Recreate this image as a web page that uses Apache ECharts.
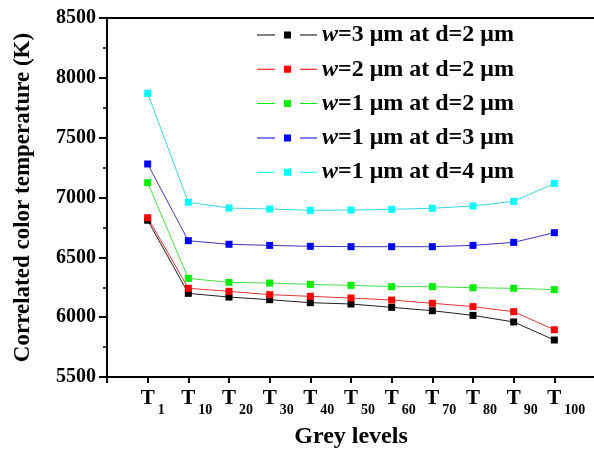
<!DOCTYPE html>
<html>
<head>
<meta charset="utf-8">
<script src="https://cdn.jsdelivr.net/npm/echarts@6/dist/echarts.min.js"></script>
<style>
  html, body { margin: 0; padding: 0; background: #fff; }
  #chart { width: 594px; height: 451px; }
</style>
</head>
<body>
<div id="chart"></div>
<script>
  // grey level subscripts (T1 ... T100)
  const levels = ['1', '10', '20', '30', '40', '50', '60', '70', '80', '90', '100'];
  const names = ['w=3 μm at d=2 μm', 'w=2 μm at d=2 μm', 'w=1 μm at d=2 μm', 'w=1 μm at d=3 μm', 'w=1 μm at d=4 μm'];
  const w3d2 = [6810, 6199, 6168, 6146, 6121, 6110, 6082, 6054, 6015, 5960, 5809];
  const w2d2 = [6831, 6241, 6216, 6188, 6174, 6160, 6143, 6116, 6088, 6046, 5895];
  const w1d2 = [7124, 6324, 6291, 6285, 6274, 6266, 6255, 6255, 6246, 6241, 6230];
  const w1d3 = [7280, 6639, 6609, 6600, 6592, 6589, 6589, 6589, 6600, 6625, 6706];
  const w1d4 = [7871, 6960, 6912, 6904, 6893, 6895, 6901, 6910, 6929, 6968, 7118];

  const markColors = ['#000000', '#ff0000', '#00ee00', '#0000ff', '#00ffff'];
  const lineColors = ['#202020', '#e03535', '#45e045', '#3a3ab8', '#35d8e0'];
  const serif = '"Liberation Serif", "Times New Roman", serif';

  const chart = echarts.init(document.getElementById('chart'));

  const toPoints = (arr) => arr.map((v, i) => [i + 1, v]);
  const allData = [w3d2, w2d2, w1d2, w1d3, w1d4];
  const labelPos = levels.map((s, i) => i + 1);

  const series = allData.map((arr, k) => ({
    name: names[k],
    type: 'line',
    xAxisIndex: 0,
    data: toPoints(arr),
    symbol: 'rect',
    symbolSize: 7,
    showSymbol: true,
    itemStyle: { color: markColors[k] },
    lineStyle: { color: lineColors[k], width: 1 },
    emphasis: { disabled: true },
    animation: false
  }));

  const option = {
    animation: false,
    grid: {
      left: 107, right: -1, top: 18, bottom: 74,
      outerBoundsMode: 'none',
      containLabel: false,
      show: true, borderColor: '#000', borderWidth: 2
    },
    legend: {
      orient: 'vertical',
      left: 257,
      top: 23,
      padding: 0,
      itemWidth: 60,
      itemHeight: 7,
      itemGap: 10.3,
      icon: 'path://M0,3H18V4H0Z M27,0H34V7H27Z M43,3H60V4H43Z',
      data: names.map((n, k) => ({ name: n, itemStyle: { color: markColors[k] } })),
      formatter: (n) => '{i|w}{b|' + n.slice(1) + '}',
      textStyle: {
        color: '#000',
        rich: {
          i: { fontFamily: serif, fontStyle: 'italic', fontWeight: 'bold', fontSize: 24, lineHeight: 24 },
          b: { fontFamily: serif, fontWeight: 'bold', fontSize: 24, lineHeight: 24 }
        }
      }
    },
    xAxis: [{
      // main axis: "T" labels centred on ticks
      type: 'value',
      min: 0,
      max: 12,
      interval: 1,
      name: 'Grey levels',
      nameLocation: 'middle',
      nameGap: 48,
      nameMoveOverlap: false,
      nameTextStyle: { fontFamily: serif, fontWeight: 'bold', fontSize: 24, color: '#000' },
      axisLine: { lineStyle: { color: '#000', width: 2 } },
      axisTick: { show: true, inside: false, length: 6, lineStyle: { color: '#000', width: 2 }, customValues: [0].concat(labelPos) },
      splitLine: { show: false },
      axisLabel: {
        margin: 11,
        customValues: labelPos,
        formatter: () => 'T',
        fontFamily: serif, fontWeight: 'bold', fontSize: 21, color: '#000'
      }
    }, {
      // subscript axis: numbers hanging right of each "T"
      type: 'value',
      position: 'bottom',
      offset: 0,
      min: 0,
      max: 12,
      interval: 1,
      axisLine: { show: false },
      axisTick: { show: false },
      splitLine: { show: false },
      axisLabel: {
        margin: 26,
        align: 'left',
        padding: [0, 0, 0, 10],
        customValues: labelPos,
        formatter: (v) => levels[Math.round(v) - 1],
        fontFamily: serif, fontWeight: 'bold', fontSize: 14, color: '#000'
      }
    }],
    yAxis: {
      type: 'value',
      min: 5500,
      max: 8500,
      interval: 500,
      name: 'Correlated color temperature (K)',
      nameLocation: 'middle',
      nameGap: 72,
      nameMoveOverlap: false,
      nameTextStyle: { fontFamily: serif, fontWeight: 'bold', fontSize: 23, color: '#000' },
      axisLine: { show: true, lineStyle: { color: '#000', width: 2 } },
      axisTick: { show: true, inside: false, length: 8, lineStyle: { color: '#000', width: 2 } },
      minorTick: { show: true, splitNumber: 2, length: 4, lineStyle: { color: '#000', width: 1.5 } },
      splitLine: { show: false },
      axisLabel: {
        margin: 11, fontFamily: serif, fontWeight: 'bold', fontSize: 20, color: '#000',
        formatter: (v) => String(v)
      }
    },
    series: series
  };

  chart.setOption(option);
</script>
</body>
</html>
